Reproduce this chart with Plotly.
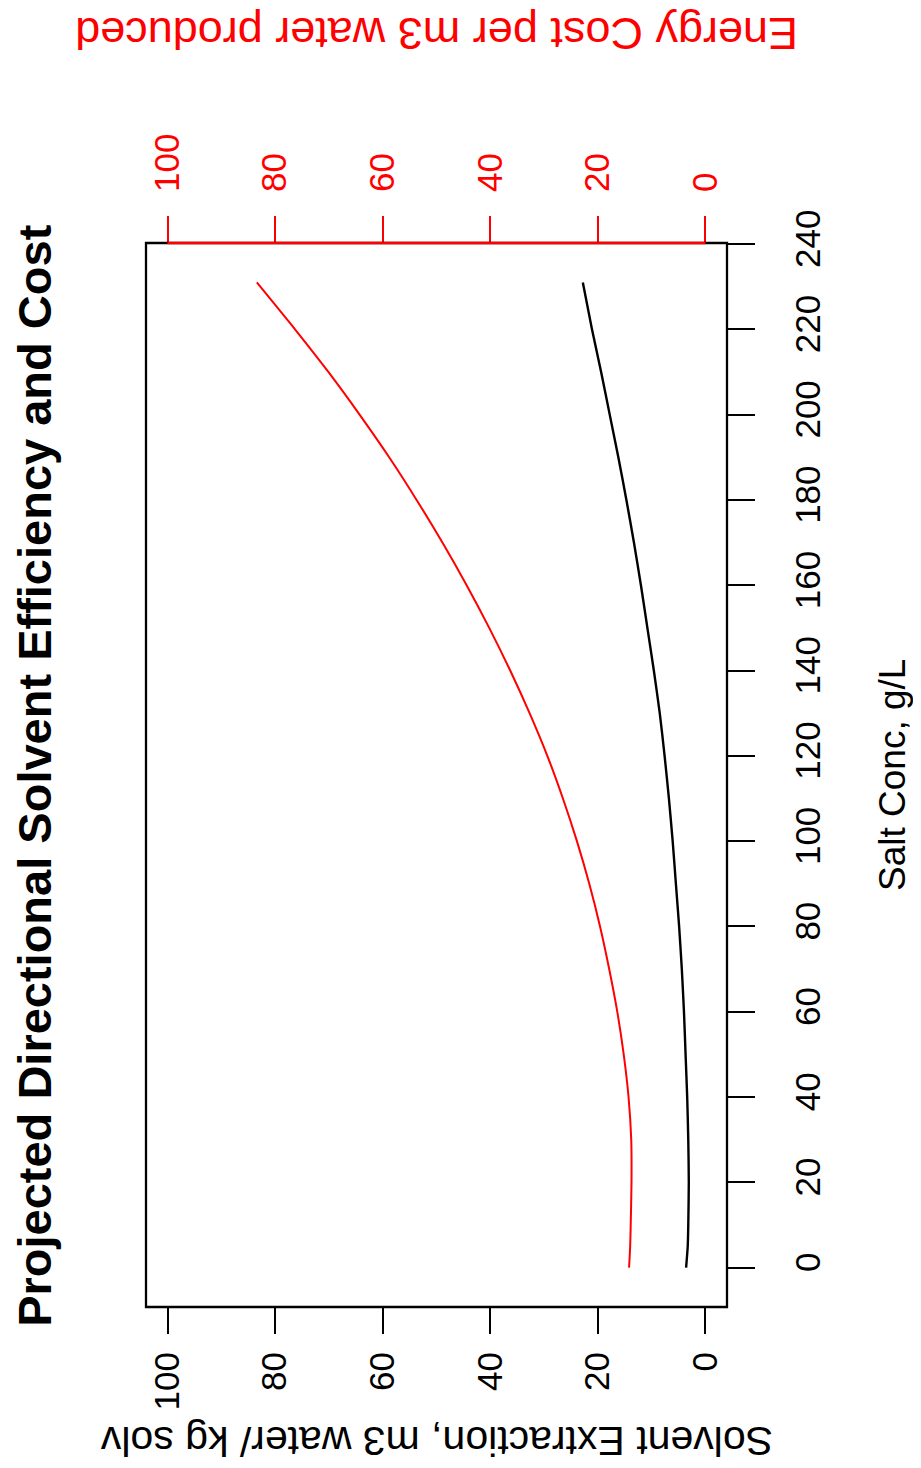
import plotly.graph_objects as go

# Salt concentration (g/L) sample positions
salt_conc = [0, 5, 10, 20, 30, 40, 50, 60, 70, 80, 90, 100, 110, 120, 130,
             140, 150, 160, 170, 180, 190, 200, 210, 220, 231]
# Solvent extraction, m3 water / kg solvent (black line)
solvent_extraction = [3.6, 3.3, 3.2, 3.1, 3.2, 3.4, 3.7, 4.0, 4.4, 4.9, 5.5,
                      6.1, 6.8, 7.6, 8.5, 9.6, 10.8, 12.0, 13.3, 14.7, 16.2,
                      17.8, 19.4, 21.1, 22.8]
# Energy cost per m3 water produced (red line)
energy_cost = [14.2, 14.0, 13.9, 13.75, 13.8, 14.3, 15.2, 16.4, 17.9, 19.6, 21.6,
               23.9, 26.5, 29.4, 32.7, 36.3, 40.2, 44.4, 48.9, 53.7, 58.8,
               64.3, 70.1, 76.3, 83.4]

value_ticks = [0, 20, 40, 60, 80, 100]
salt_ticks = [0, 20, 40, 60, 80, 100, 120, 140, 160, 180, 200, 220, 240]

title_text = "Projected Directional Solvent Efficiency and Cost"
salt_title = "Salt Conc, g/L"
solvent_title = "Solvent Extraction, m3 water/ kg solv"
energy_title = "Energy Cost per m3 water produced"

FONT = "Liberation Sans, Arial, sans-serif"

fig = go.Figure()
fig.add_trace(go.Scatter(x=solvent_extraction, y=salt_conc, mode="lines",
                         line=dict(color="black", width=2.4, shape="spline", smoothing=0.6),
                         xaxis="x", yaxis="y", showlegend=False, hoverinfo="skip"))
fig.add_trace(go.Scatter(x=energy_cost, y=salt_conc, mode="lines",
                         line=dict(color="#ff0000", width=2.0, shape="spline", smoothing=0.6),
                         xaxis="x2", yaxis="y", showlegend=False, hoverinfo="skip"))

axis_common = dict(range=[104, -4], tickvals=value_ticks,
                   ticktext=[str(v) for v in value_ticks],
                   ticks="outside", ticklen=26, tickwidth=2.3,
                   tickangle=-90, showgrid=False, zeroline=False, showline=False,
                   automargin=False)

fig.update_layout(
    width=913, height=1460,
    margin=dict(l=138, r=194, t=235, b=161, autoexpand=False),
    paper_bgcolor="white", plot_bgcolor="white",
    font=dict(family=FONT, color="black"),
    xaxis=dict(**axis_common, side="bottom", tickcolor="black",
               tickfont=dict(size=35, color="black", family=FONT),
               ticklabelstandoff=4),
    xaxis2=dict(**axis_common, side="top", overlaying="x", tickcolor="#ff0000",
                tickfont=dict(size=35, color="#ff0000", family=FONT),
                ticklabelstandoff=17),
    yaxis=dict(range=[-9.24, 240.24], tickvals=salt_ticks,
               ticktext=[str(v) for v in salt_ticks], side="right",
               ticks="outside", ticklen=27, tickwidth=2.3, tickcolor="black",
               tickangle=-90, tickfont=dict(size=35, color="black", family=FONT),
               ticklabelstandoff=23, automargin=False,
               showgrid=False, zeroline=False, showline=False),
    shapes=[
        dict(type="rect", xref="paper", yref="paper", x0=0, x1=1, y0=0, y1=1,
             line=dict(color="black", width=2.3), layer="above"),
        dict(type="line", xref="x2", yref="paper", x0=max(value_ticks),
             x1=min(value_ticks), y0=1, y1=1,
             line=dict(color="#ff0000", width=2.3), layer="above"),
    ],
    annotations=[
        dict(text="<b>" + title_text + "</b>", xref="paper", yref="paper",
             x=-0.193, y=0.5, xanchor="center", yanchor="middle", textangle=-90,
             showarrow=False, font=dict(size=47, color="black", family=FONT)),
        dict(text=salt_title, xref="paper", yref="paper",
             x=1.284, y=0.5, xanchor="center", yanchor="middle", textangle=-90,
             showarrow=False, font=dict(size=37, color="black", family=FONT)),
        dict(text=solvent_title, xref="paper", yref="paper",
             x=0.5, y=-0.126, xanchor="center", yanchor="middle", textangle=180,
             showarrow=False, font=dict(size=41, color="black", family=FONT)),
        dict(text=energy_title, xref="paper", yref="paper",
             x=0.5, y=1.1962, xanchor="center", yanchor="middle", textangle=180,
             showarrow=False, font=dict(size=45, color="#ff0000", family=FONT)),
    ],
)

fig.write_html("out.html")
